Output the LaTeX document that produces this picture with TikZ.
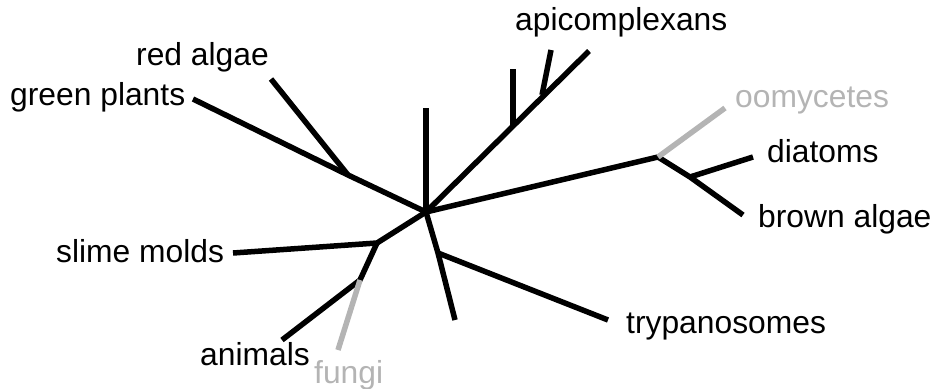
\documentclass[tikz,border=0pt]{standalone}
\usepackage{fontspec}
\setmainfont{Liberation Sans}
\usepackage{xcolor}
\definecolor{paleGrey}{RGB}{180,180,180}

\begin{document}
\begin{tikzpicture}[x=1pt,y=1pt,yscale=-1,xscale=1,
    branch/.style={line width=5.5pt},
    greyBranch/.style={branch, color=paleGrey},
    taxon/.style={inner sep=0pt, anchor=base west, font=\fontsize{31.8}{38}\selectfont},
    greyTaxon/.style={taxon, text=paleGrey}]
    \useasboundingbox (0,0) rectangle (933,388);

    %Tree points
    \coordinate (root) at (426,212);
    \coordinate (plantsJoin) at (348,175);
    \coordinate (plantsTip) at (193,99);
    \coordinate (redTip) at (271,79);
    \coordinate (upTip) at (426,108);
    \coordinate (apiTip) at (589,51);
    \coordinate (apiJoinA) at (513,125);
    \coordinate (apiTipA) at (513,69);
    \coordinate (apiJoinB) at (542,95);
    \coordinate (apiTipB) at (551,50);
    \coordinate (stramJoin) at (658,157);
    \coordinate (oomyTip) at (725,108);
    \coordinate (diatJoin) at (690,177);
    \coordinate (diatTip) at (753,157);
    \coordinate (brownTip) at (743,215);
    \coordinate (slimeJoin) at (377,243);
    \coordinate (slimeTip) at (233,253);
    \coordinate (opisJoin) at (360,280);
    \coordinate (animTip) at (282,340);
    \coordinate (fungTip) at (338,350);
    \coordinate (trypJoin) at (438,253);
    \coordinate (downTip) at (455,320);
    \coordinate (trypTip) at (608,320);

    %Branches
    \draw [branch] (plantsTip) -- (plantsJoin) -- (root);
    \draw [branch] (redTip) -- (plantsJoin);
    \draw [branch] (root) -- (upTip);
    \draw [branch] (root) -- (apiTip);
    \draw [branch] (apiJoinA) -- (apiTipA);
    \draw [branch] (apiJoinB) -- (apiTipB);
    \draw [branch] (root) -- (stramJoin) -- (diatJoin) -- (brownTip);
    \draw [greyBranch] (stramJoin) -- (oomyTip);
    \draw [branch] (diatJoin) -- (diatTip);
    \draw [branch] (root) -- (slimeJoin) -- (slimeTip);
    \draw [branch] (slimeJoin) -- (opisJoin) -- (animTip);
    \draw [greyBranch] (opisJoin) -- (fungTip);
    \draw [branch] (root) -- (trypJoin) -- (downTip);
    \draw [branch] (trypJoin) -- (trypTip);

    %Labels
    \node [taxon] (plants) at (10,105) {green plants};
    \node [taxon] (red) at (136,65) {red algae};
    \node [taxon] (api) at (515,30) {apicomplexans};
    \node [greyTaxon] (oomy) at (735,107) {oomycetes};
    \node [taxon] (diat) at (767,162) {diatoms};
    \node [taxon] (brown) at (758,227) {brown algae};
    \node [taxon] (slime) at (56,262) {slime molds};
    \node [taxon] (anim) at (200,365) {animals};
    \node [greyTaxon] (fung) at (314,383) {fungi};
    \node [taxon] (tryp) at (626,333) {trypanosomes};
\end{tikzpicture}
\end{document}
